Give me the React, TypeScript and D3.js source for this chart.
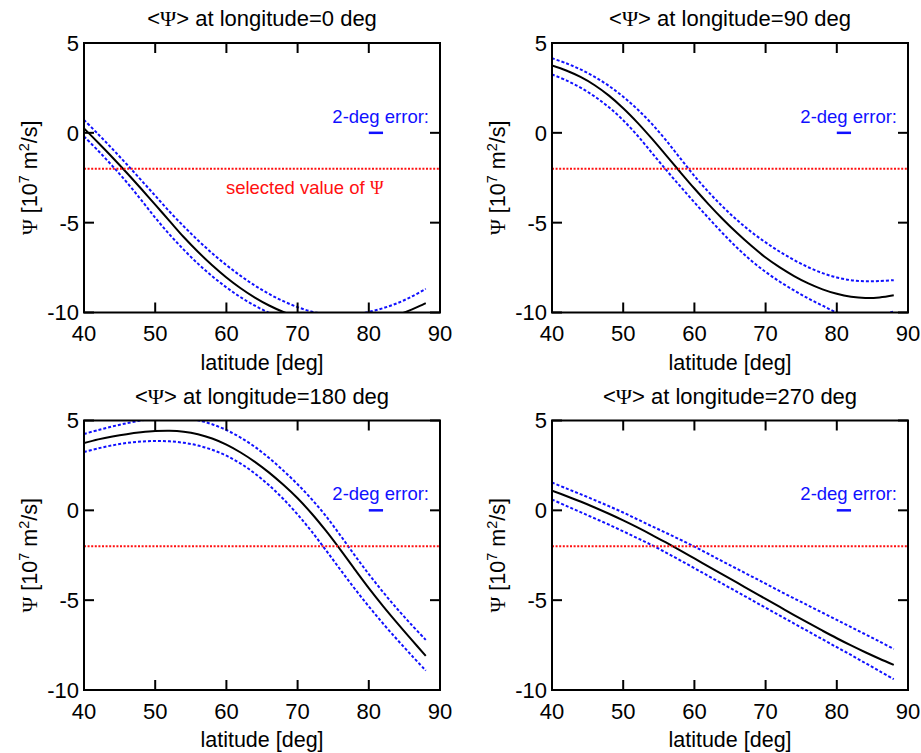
import React from 'react';
import * as d3 from 'd3';

// ---- data ----
const latitudes = [40, 42, 44, 46, 48, 50, 52, 54, 56, 58, 60, 62, 64, 66, 68, 70, 72, 74, 76, 78, 80, 82, 84, 86, 88];
const longitudes = [0, 90, 180, 270];

const psiLon0 = [0.25, -0.55, -1.37, -2.22, -3.1, -4.0, -4.9, -5.8, -6.62, -7.37, -8.05, -8.65, -9.17, -9.61, -9.97, -10.26, -10.48, -10.62, -10.68, -10.65, -10.55, -10.38, -10.14, -9.84, -9.48];
const psiLon0Plus = [0.72, -0.08, -0.9, -1.75, -2.62, -3.5, -4.38, -5.2, -5.98, -6.7, -7.36, -7.96, -8.5, -8.97, -9.37, -9.7, -9.95, -10.1, -10.15, -10.1, -9.97, -9.76, -9.48, -9.12, -8.68];
const psiLon0Minus = [-0.2, -1.0, -1.85, -2.75, -3.72, -4.72, -5.65, -6.5, -7.28, -7.98, -8.6, -9.15, -9.62, -10.02, -10.35, -10.62, -10.83, -10.98, -11.08, -11.12, -11.1, -11.03, -10.92, -10.77, -10.58];

const psiLon90 = [3.75, 3.47, 3.11, 2.65, 2.07, 1.37, 0.57, -0.31, -1.24, -2.18, -3.1, -3.98, -4.81, -5.58, -6.29, -6.94, -7.49, -7.97, -8.38, -8.71, -8.96, -9.12, -9.19, -9.16, -9.04];
const psiLon90Plus = [4.15, 3.87, 3.53, 3.11, 2.61, 2.01, 1.31, 0.51, -0.41, -1.41, -2.4, -3.3, -4.12, -4.86, -5.52, -6.1, -6.62, -7.08, -7.48, -7.81, -8.05, -8.2, -8.26, -8.25, -8.2];
const psiLon90Minus = [3.25, 2.92, 2.52, 2.02, 1.42, 0.7, -0.15, -1.1, -2.05, -2.97, -3.87, -4.75, -5.6, -6.4, -7.12, -7.74, -8.29, -8.77, -9.22, -9.62, -10.0, -10.2, -10.25, -10.15, -9.95];

const psiLon180 = [3.75, 3.95, 4.11, 4.24, 4.34, 4.41, 4.43, 4.38, 4.24, 4.0, 3.66, 3.22, 2.7, 2.1, 1.42, 0.67, -0.19, -1.15, -2.19, -3.27, -4.33, -5.33, -6.28, -7.2, -8.1];
const psiLon180Plus = [4.25, 4.47, 4.67, 4.85, 5.0, 5.11, 5.16, 5.13, 5.01, 4.79, 4.47, 4.05, 3.53, 2.91, 2.21, 1.45, 0.61, -0.33, -1.39, -2.49, -3.55, -4.55, -5.49, -6.37, -7.21];
const psiLon180Minus = [3.25, 3.45, 3.62, 3.75, 3.83, 3.86, 3.84, 3.76, 3.61, 3.37, 3.04, 2.6, 2.05, 1.39, 0.63, -0.23, -1.19, -2.23, -3.3, -4.35, -5.35, -6.3, -7.2, -8.07, -8.92];

const psiLon270 = [1.1, 0.8, 0.49, 0.16, -0.19, -0.56, -0.95, -1.36, -1.79, -2.23, -2.68, -3.13, -3.58, -4.03, -4.48, -4.93, -5.38, -5.83, -6.27, -6.7, -7.12, -7.52, -7.9, -8.26, -8.6];
const psiLon270Plus = [1.55, 1.22, 0.9, 0.57, 0.23, -0.12, -0.5, -0.88, -1.25, -1.63, -2.02, -2.43, -2.85, -3.26, -3.67, -4.08, -4.5, -4.9, -5.3, -5.7, -6.1, -6.5, -6.9, -7.3, -7.72];
const psiLon270Minus = [0.6, 0.25, -0.1, -0.45, -0.8, -1.17, -1.55, -1.93, -2.35, -2.78, -3.22, -3.66, -4.1, -4.54, -4.98, -5.42, -5.86, -6.3, -6.74, -7.18, -7.62, -8.05, -8.5, -8.95, -9.4];

const centralSeries = [psiLon0, psiLon90, psiLon180, psiLon270];
const plusSeries = [psiLon0Plus, psiLon90Plus, psiLon180Plus, psiLon270Plus];
const minusSeries = [psiLon0Minus, psiLon90Minus, psiLon180Minus, psiLon270Minus];

const xTicks = [40, 50, 60, 70, 80, 90];
const yTicks = [5, 0, -5, -10];
const xDomain = [40, 90];
const yDomain = [-10, 5];
const selectedPsi = -2;
const errorBarLat = [80, 82];
const errorBarPsi = 0;

// ---- layout ----
const W = 921;
const H = 753;
const PW = 356;
const PH = 269.5;
const origins: [number, number][] = [
  [84, 43],
  [552, 43],
  [84, 420.5],
  [552, 420.5],
];
const FONT = '"Liberation Sans", Arial, Helvetica, sans-serif';
const SERIF = '"Liberation Serif", "DejaVu Serif", serif';
const BLUE = '#1010ff';
const RED = '#ff1010';

function Panel({ idx }: { idx: number }) {
  const [ox, oy] = origins[idx];
  const x = d3.scaleLinear().domain(xDomain).range([0, PW]);
  const y = d3.scaleLinear().domain(yDomain).range([PH, 0]);
  const line = d3
    .line<number>()
    .x((_, k) => x(latitudes[k]))
    .y((d) => y(d))
    .curve(d3.curveCatmullRom.alpha(0.5));
  const clipId = `clip-${idx}`;
  const tickLen = 10;
  return (
    <g transform={`translate(${ox},${oy})`} fontFamily={FONT}>
      <defs>
        <clipPath id={clipId}>
          <rect x={0} y={0} width={PW} height={PH} />
        </clipPath>
      </defs>
      <g clipPath={`url(#${clipId})`}>
        <path d={line(plusSeries[idx]) || ''} fill="none" stroke={BLUE} strokeWidth={2} strokeDasharray="3,2" />
        <path d={line(minusSeries[idx]) || ''} fill="none" stroke={BLUE} strokeWidth={2} strokeDasharray="3,2" />
        <path d={line(centralSeries[idx]) || ''} fill="none" stroke="#000" strokeWidth={2} />
        <line x1={0} x2={PW} y1={y(selectedPsi)} y2={y(selectedPsi)} stroke={RED} strokeWidth={2} strokeDasharray="2,1.6" />
      </g>
      {/* legend */}
      <line x1={x(errorBarLat[0])} x2={x(errorBarLat[1])} y1={y(errorBarPsi)} y2={y(errorBarPsi)} stroke={BLUE} strokeWidth={2.5} />
      <text x={PW - 11} y={y(errorBarPsi) - 10} textAnchor="end" fontSize={18.5} fill={BLUE}>
        2-deg error:
      </text>
      {idx === 0 && (
        <text x={x(71)} y={y(selectedPsi) + 25} textAnchor="middle" fontSize={18.5} fill={RED}>
          selected value of <tspan fontFamily={SERIF}>Ψ</tspan>
        </text>
      )}
      {/* frame */}
      <rect x={0} y={0} width={PW} height={PH} fill="none" stroke="#000" strokeWidth={2} />
      {xTicks.map((t) => (
        <g key={`xt${t}`}>
          <line x1={x(t)} x2={x(t)} y1={0} y2={tickLen} stroke="#000" strokeWidth={2} />
          <line x1={x(t)} x2={x(t)} y1={PH} y2={PH - tickLen} stroke="#000" strokeWidth={2} />
          <text x={x(t)} y={PH + 28.5} textAnchor="middle" fontSize={22}>
            {t}
          </text>
        </g>
      ))}
      {yTicks.map((t) => (
        <g key={`yt${t}`}>
          <line x1={0} x2={tickLen} y1={y(t)} y2={y(t)} stroke="#000" strokeWidth={2} />
          <line x1={PW} x2={PW - tickLen} y1={y(t)} y2={y(t)} stroke="#000" strokeWidth={2} />
          <text x={-5} y={y(t)} dy="0.36em" textAnchor="end" fontSize={22}>
            {t}
          </text>
        </g>
      ))}
      {/* title */}
      <text x={PW / 2} y={-17} textAnchor="middle" fontSize={22}>
        {'<'}
        <tspan fontFamily={SERIF}>Ψ</tspan>
        {`> at longitude=${longitudes[idx]} deg`}
      </text>
      {/* x label */}
      <text x={PW / 2} y={PH + 57} textAnchor="middle" fontSize={21.5}>
        latitude [deg]
      </text>
      {/* y label */}
      <text transform={`translate(-47,${PH / 2}) rotate(-90)`} textAnchor="middle" fontSize={21.5}>
        <tspan fontFamily={SERIF}>Ψ</tspan>
        <tspan> [10</tspan>
        <tspan dy={-8} fontSize={14.5}>7</tspan>
        <tspan dy={8}> m</tspan>
        <tspan dy={-8} fontSize={14.5}>2</tspan>
        <tspan dy={8}>/s]</tspan>
      </text>
    </g>
  );
}

export default function App() {
  return (
    <div style={{ position: 'absolute', left: 0, top: 0 }}>
      <svg width={W} height={H} viewBox={`0 0 ${W} ${H}`} style={{ display: 'block', background: '#fff' }}>
        {longitudes.map((_, i) => (
          <Panel key={i} idx={i} />
        ))}
      </svg>
    </div>
  );
}
